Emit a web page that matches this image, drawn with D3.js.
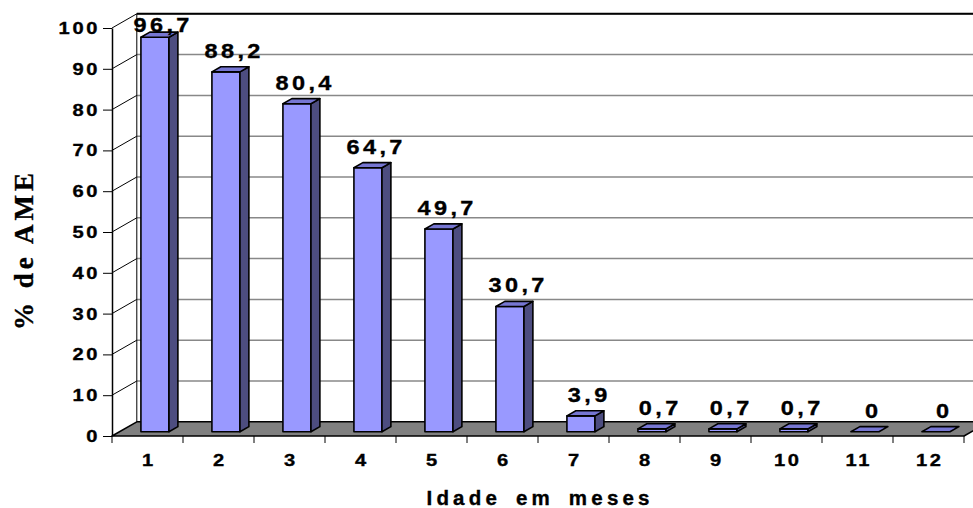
<!DOCTYPE html>
<html>
<head>
<meta charset="utf-8">
<script src="https://cdn.jsdelivr.net/npm/d3@7"></script>
<style>
  html, body { margin: 0; padding: 0; background: #fff; }
  svg { display: block; }
  text { font-family: "Liberation Sans", Arial, sans-serif; font-weight: bold; fill: #000; stroke: #000; stroke-width: 0.35px; }
</style>
</head>
<body>
<svg id="chart" width="973" height="508"></svg>
<script>
// Exclusive breastfeeding (AME) rate by age in months
const categories = ["1", "2", "3", "4", "5", "6", "7", "8", "9", "10", "11", "12"];
const values = [96.7, 88.2, 80.4, 64.7, 49.7, 30.7, 3.9, 0.7, 0.7, 0.7, 0, 0];
const yTicks = [0, 10, 20, 30, 40, 50, 60, 70, 80, 90, 100];
const xTitle = "Idade em meses";
const yTitle = "% de AME";

const W = 973, H = 508;
const svg = d3.select("#chart");

// front plane of the 3-D box
const x = d3.scaleBand().domain(categories).range([112, 964]).padding(0);
const y = d3.scaleLinear().domain([0, 100]).range([436, 28]);

// depth vector of the box (front -> back wall)
const depth = { dx: 24.8, dy: -14.2 };
const t1 = 0.30, t2 = 0.66;          // bar front / back as fraction of depth
const barW = x.bandwidth() * 0.395;
const ddx = (t2 - t1) * depth.dx, ddy = (t2 - t1) * depth.dy;

const colors = { front: "#9999ff", side: "#4d4d80", top: "#7676d2", floor: "#808080", grid: "#888888" };

const fmt = v => String(v).replace(".", ",");

// stretched, letter-spaced text helper
function label(g, txt, px, py, o) {
  const sx = o.sx || 1, ls = o.ls || 0;
  let dx = 0;
  if (o.anchor === "middle") dx = ls / 2;
  if (o.anchor === "end") dx = ls;
  return g.append("text")
    .attr("transform", `translate(${px},${py})${o.rotate ? ` rotate(${o.rotate})` : ""} scale(${sx},1)`)
    .attr("text-anchor", o.anchor || "start")
    .attr("dx", dx)
    .style("font-size", o.size + "px")
    .style("letter-spacing", ls + "px")
    .style("word-spacing", (o.ws || 0) + "px")
    .style("font-family", o.family || null)
    .text(txt);
}

const x0 = x.range()[0], x1 = x.range()[1];
const xb0 = x0 + depth.dx, xb1 = x1 + depth.dx;

// back wall gridlines
const walls = svg.append("g");
walls.selectAll("line.grid").data(yTicks.filter(d => d > 0)).join("line")
  .attr("class", "grid")
  .attr("x1", xb0).attr("x2", W + 5)
  .attr("y1", d => y(d) + depth.dy).attr("y2", d => y(d) + depth.dy)
  .attr("stroke", colors.grid).attr("stroke-width", 1.5);

// left side wall: diagonal gridlines
walls.selectAll("line.side").data(yTicks.filter(d => d > 0)).join("line")
  .attr("class", "side")
  .attr("x1", x0).attr("y1", d => y(d))
  .attr("x2", xb0).attr("y2", d => y(d) + depth.dy)
  .attr("stroke", "#000").attr("stroke-width", 1);

// back wall left edge and top edge
walls.append("line")
  .attr("x1", xb0).attr("x2", xb0)
  .attr("y1", y(0) + depth.dy).attr("y2", y(100) + depth.dy)
  .attr("stroke", "#000").attr("stroke-width", 1);
walls.append("line")
  .attr("x1", xb0).attr("x2", W + 5)
  .attr("y1", y(100) + depth.dy).attr("y2", y(100) + depth.dy)
  .attr("stroke", "#000").attr("stroke-width", 2);

// floor
svg.append("polygon")
  .attr("points", [[x0, y(0)], [x1, y(0)], [xb1, y(0) + depth.dy], [xb0, y(0) + depth.dy]].map(p => p.join(",")).join(" "))
  .attr("fill", colors.floor).attr("stroke", "#000").attr("stroke-width", 1.5).attr("stroke-linejoin", "round");

// y axis (front edge)
const yAxis = d3.axisLeft(y).tickValues(yTicks).tickSize(9).tickSizeOuter(0).tickFormat("");
const gy = svg.append("g").attr("transform", `translate(${x0},0)`).call(yAxis);
gy.select(".domain").attr("stroke", "#000").attr("stroke-width", 1.5);
gy.selectAll(".tick line").attr("stroke", "#000").attr("stroke-width", 1);

// x axis ticks on category boundaries
const gx = svg.append("g").attr("transform", `translate(0,${y(0)})`);
gx.selectAll("line.b").data(categories.concat(["_end"])).join("line")
  .attr("class", "b")
  .attr("x1", (d, i) => x0 + i * x.bandwidth()).attr("x2", (d, i) => x0 + i * x.bandwidth())
  .attr("y1", 0).attr("y2", 7)
  .attr("stroke", "#000").attr("stroke-width", 1);

// bars
const baseY = y(0) + t1 * depth.dy;
const bars = svg.append("g").selectAll("g").data(values.map((v, i) => ({ v, c: categories[i] }))).join("g");
bars.each(function (d) {
  const g = d3.select(this);
  const fx = x(d.c) + (x.bandwidth() - barW) / 2 + t1 * depth.dx;
  const top = baseY - (y(0) - y(d.v));
  const pts = a => a.map(p => p.join(",")).join(" ");
  if (d.v > 0) {
    g.append("polygon")
      .attr("points", pts([[fx, top], [fx + barW, top], [fx + barW, baseY], [fx, baseY]]))
      .attr("fill", colors.front);
    g.append("polygon")
      .attr("points", pts([[fx + barW, top], [fx + barW + ddx, top + ddy], [fx + barW + ddx, baseY + ddy], [fx + barW, baseY]]))
      .attr("fill", colors.side);
  }
  g.append("polygon")
    .attr("points", pts([[fx, top], [fx + ddx, top + ddy], [fx + barW + ddx, top + ddy], [fx + barW, top]]))
    .attr("fill", colors.top);
  g.selectAll("polygon").attr("stroke", "#000").attr("stroke-width", 1.6).attr("stroke-linejoin", "round");

  // value label
  const ly = Math.max(top + ddy - 9, 31.5);
  label(g, fmt(d.v), x(d.c) + x.bandwidth() / 2 + 14, ly, { size: 21, sx: 1.12, ls: 3, anchor: "middle" });
});

// tick labels
const yl = svg.append("g");
yTicks.forEach(t => label(yl, String(t), 97.5, y(t) + 6, { size: 16.5, sx: 1.22, ls: 2.2, anchor: "end" }));
const xl = svg.append("g");
categories.forEach(c => label(xl, c, x(c) + x.bandwidth() / 2, 466, { size: 16.5, sx: 1.22, ls: 2.2, anchor: "middle" }));

// axis titles
label(svg, xTitle, (x0 + x1) / 2, 505, { size: 20.5, ls: 4.2, ws: 5, anchor: "middle" });
label(svg, yTitle, 33, 251.5, { size: 27, ls: 4, anchor: "middle", rotate: -90, family: '"Liberation Serif", "Times New Roman", serif' });
</script>
</body>
</html>
